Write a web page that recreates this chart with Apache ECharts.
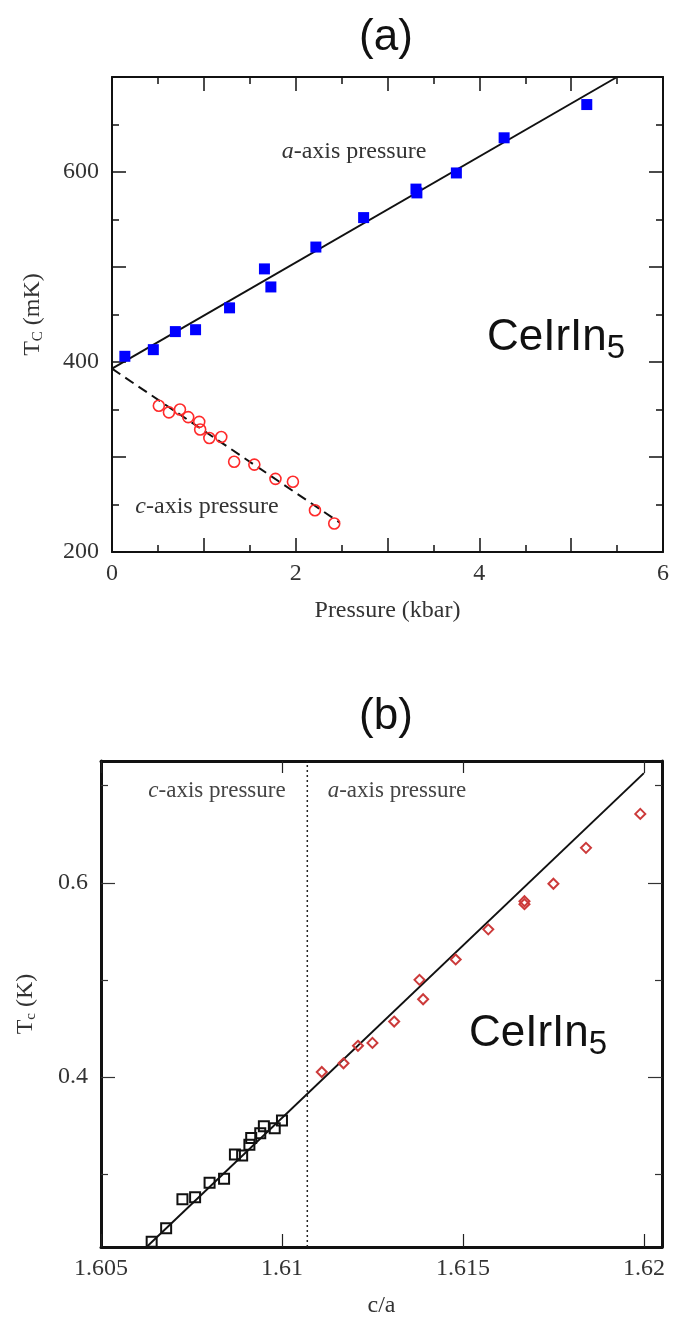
<!DOCTYPE html>
<html>
<head>
<meta charset="utf-8">
<script src="https://cdn.jsdelivr.net/npm/echarts@6/dist/echarts.min.js"></script>
<style>
html,body{margin:0;padding:0;background:#fff;}
#c{width:674px;height:1322px;}
</style>
</head>
<body>
<div id="c"></div>
<script>
// ---- Panel (a): Tc vs pressure ----
const aPressure = [0.14, 0.45, 0.69, 0.91, 1.28, 1.66, 1.73, 2.22, 2.74, 3.31, 3.32, 3.75, 4.27, 5.17];
const aTc       = [406, 413, 432, 434, 457, 498, 479, 521, 552, 582, 578, 599, 636, 671];
const cPressure = [0.51, 0.62, 0.74, 0.83, 0.95, 0.96, 1.06, 1.19, 1.33, 1.55, 1.78, 1.97, 2.21, 2.42];
const cTc       = [354, 347, 350, 342, 337, 329, 320, 321, 295, 292, 277, 274, 244, 230];
const aFitP = [0, 5.5];
const aFitT = [393, 700];
const cFitP = [0, 2.48];
const cFitT = [393, 231];
const pressureTicks = [0, 2, 4, 6];
const tcTicksA = [200, 400, 600];

// ---- Panel (b): Tc vs c/a ----
const caC  = [1.6064, 1.6068, 1.60725, 1.6076, 1.6080, 1.6084, 1.6087, 1.6089, 1.6091, 1.60915, 1.6094, 1.6095, 1.6098, 1.6100];
const tcC  = [0.230, 0.244, 0.274, 0.276, 0.291, 0.295, 0.320, 0.319, 0.330, 0.337, 0.342, 0.349, 0.347, 0.355];
const caA  = [1.6111, 1.6117, 1.6121, 1.6125, 1.6131, 1.6139, 1.6138, 1.6148, 1.6157, 1.6167, 1.6167, 1.6175, 1.6184, 1.6199];
const tcA  = [0.405, 0.414, 0.432, 0.435, 0.457, 0.480, 0.500, 0.521, 0.552, 0.581, 0.578, 0.599, 0.636, 0.671];
const fitCA = [1.606, 1.62];
const fitTc = [0.2155, 0.713];
const dividerCA = 1.6107;
const caTicks = [1.605, 1.61, 1.615, 1.62];
const tcTicksBMajor = [0.4, 0.6];
const tcTicksBMinor = [0.3, 0.5, 0.7];
const caMin = 1.605, caMax = 1.6205;
const tcBMin = 0.2247, tcBMax = 0.7255;

const zip = (xs, ys) => xs.map((x, i) => [x, ys[i]]);

const SERIF = '"Liberation Serif", "DejaVu Serif", serif';
const SANS = '"Liberation Sans", Arial, sans-serif';
const TXT = '#333';
const labelStyle = {fontFamily: SERIF, fontSize: 24, color: TXT};

function axisA(pos, showLabel, isX) {
  const o = {
    gridIndex: 0, type: 'value', position: pos,
    min: isX ? 0 : 200, max: isX ? 6 : 700, interval: isX ? 1 : 100,
    axisLine: {show: true, onZero: false, lineStyle: {color: '#111', width: 2}},
    axisTick: {show: true, inside: true, length: 14, lineStyle: {color: '#111', width: 1.5}},
    minorTick: {show: true, splitNumber: 2, length: 7, lineStyle: {color: '#111', width: 1.5}},
    splitLine: {show: false}, minorSplitLine: {show: false},
    axisLabel: {show: showLabel, ...labelStyle, margin: isX ? 10 : 13,
      formatter: v => (isX ? pressureTicks : tcTicksA).indexOf(v) >= 0 ? String(v) : ''}
  };
  return o;
}

const option = {
  animation: false,
  backgroundColor: '#fff',
  grid: [
    {left: 112, top: 77, width: 551, height: 475},
    {left: 101, top: 761, width: 561, height: 486}
  ],
  xAxis: [
    Object.assign(axisA('bottom', true, true), {
      name: 'Pressure (kbar)', nameLocation: 'middle', nameGap: 47,
      nameTextStyle: {fontFamily: SERIF, fontSize: 24, color: TXT}
    }),
    axisA('top', false, true),
    {
      gridIndex: 1, type: 'value', position: 'bottom', min: caMin, max: caMax,
      axisLine: {show: true, onZero: false, lineStyle: {color: '#111', width: 3}},
      axisTick: {show: true, inside: true, length: 13, customValues: caTicks, lineStyle: {color: '#222', width: 1.2}},
      axisLabel: {show: true, ...labelStyle, margin: 10, customValues: caTicks, formatter: v => String(+v.toFixed(3))},
      splitLine: {show: false},
      name: 'c/a', nameLocation: 'middle', nameGap: 47,
      nameTextStyle: {fontFamily: SERIF, fontSize: 24, color: TXT}
    },
    {
      gridIndex: 1, type: 'value', position: 'top', min: caMin, max: caMax,
      axisLine: {show: true, onZero: false, lineStyle: {color: '#111', width: 3}},
      axisTick: {show: true, inside: true, length: 12, customValues: caTicks, lineStyle: {color: '#222', width: 1.2}},
      axisLabel: {show: false},
      splitLine: {show: false}
    }
  ],
  yAxis: [
    Object.assign(axisA('left', true, false), {
      name: '{t|T}{s|C}{t| (mK)}', nameLocation: 'middle', nameGap: 66,
      nameTextStyle: {fontFamily: SERIF, fontSize: 24, color: TXT,
        rich: {t: {fontFamily: SERIF, fontSize: 24, color: TXT}, s: {fontFamily: SERIF, fontSize: 15, color: TXT, padding: [12, 0, 0, 0]}}}
    }),
    axisA('right', false, false),
    {
      gridIndex: 1, type: 'value', position: 'left', min: tcBMin, max: tcBMax,
      axisLine: {show: true, onZero: false, lineStyle: {color: '#111', width: 3}},
      axisTick: {show: true, inside: true, length: 14, customValues: tcTicksBMajor, lineStyle: {color: '#333', width: 1.2}},
      axisLabel: {show: true, ...labelStyle, margin: 13, customValues: tcTicksBMajor, formatter: v => String(+v.toFixed(1))},
      splitLine: {show: false},
      name: '{t|T}{s|c}{t| (K)}', nameLocation: 'middle', nameGap: 62,
      nameTextStyle: {fontFamily: SERIF, fontSize: 24, color: TXT,
        rich: {t: {fontFamily: SERIF, fontSize: 24, color: TXT}, s: {fontFamily: SERIF, fontSize: 15, color: TXT, padding: [12, 0, 0, 0]}}}
    },
    {
      gridIndex: 1, type: 'value', position: 'left', min: tcBMin, max: tcBMax,
      axisLine: {show: false},
      axisTick: {show: true, inside: true, length: 7, customValues: tcTicksBMinor, lineStyle: {color: '#333', width: 1.2}},
      axisLabel: {show: false}, splitLine: {show: false}
    },
    {
      gridIndex: 1, type: 'value', position: 'right', min: tcBMin, max: tcBMax,
      axisLine: {show: true, onZero: false, lineStyle: {color: '#111', width: 3}},
      axisTick: {show: true, inside: true, length: 14, customValues: tcTicksBMajor, lineStyle: {color: '#333', width: 1.2}},
      axisLabel: {show: false}, splitLine: {show: false}
    },
    {
      gridIndex: 1, type: 'value', position: 'right', min: tcBMin, max: tcBMax,
      axisLine: {show: false},
      axisTick: {show: true, inside: true, length: 7, customValues: tcTicksBMinor, lineStyle: {color: '#333', width: 1.2}},
      axisLabel: {show: false}, splitLine: {show: false}
    }
  ],
  series: [
    {type: 'line', xAxisIndex: 0, yAxisIndex: 0, data: zip(aFitP, aFitT), symbol: 'none', clip: true,
      lineStyle: {color: '#111', width: 2}, z: 2},
    {type: 'line', xAxisIndex: 0, yAxisIndex: 0, data: zip(cFitP, cFitT), symbol: 'none', clip: true,
      lineStyle: {color: '#111', width: 2, type: [10, 6]}, z: 2},
    {type: 'scatter', xAxisIndex: 0, yAxisIndex: 0, data: zip(aPressure, aTc), symbol: 'rect', symbolSize: 11,
      itemStyle: {color: '#0000ff', opacity: 1}, z: 3},
    {type: 'scatter', xAxisIndex: 0, yAxisIndex: 0, data: zip(cPressure, cTc), symbol: 'circle', symbolSize: 11,
      itemStyle: {color: 'rgba(255,255,255,0)', borderColor: '#ff2a2a', borderWidth: 1.6, opacity: 1}, z: 3},

    {type: 'line', xAxisIndex: 2, yAxisIndex: 2, data: zip(fitCA, fitTc), symbol: 'none', clip: true,
      lineStyle: {color: '#111', width: 2}, z: 2},
    {type: 'line', xAxisIndex: 2, yAxisIndex: 2, data: [[dividerCA, tcBMin], [dividerCA, tcBMax]], symbol: 'none', clip: true,
      lineStyle: {color: '#222', width: 1.5, type: [2, 3]}, z: 2},
    {type: 'scatter', xAxisIndex: 2, yAxisIndex: 2, data: zip(caC, tcC), symbol: 'rect', symbolSize: 10,
      itemStyle: {color: 'rgba(255,255,255,0)', borderColor: '#111', borderWidth: 2, opacity: 1}, z: 3},
    {type: 'scatter', xAxisIndex: 2, yAxisIndex: 2, data: zip(caA, tcA), symbol: 'diamond', symbolSize: 10,
      itemStyle: {color: 'rgba(255,255,255,0)', borderColor: '#cc3a3a', borderWidth: 2, opacity: 1}, z: 3}
  ],
  graphic: [
    {type: 'text', style: {text: '(a)', x: 386, y: 38, textAlign: 'center', textVerticalAlign: 'middle', font: '44px ' + SANS, fill: '#111'}},
    {type: 'text', style: {text: '(b)', x: 386, y: 717, textAlign: 'center', textVerticalAlign: 'middle', font: '44px ' + SANS, fill: '#111'}},
    {type: 'text', style: {text: '{i|a}{n|-axis pressure}', x: 354, y: 152, textAlign: 'center', textVerticalAlign: 'middle',
      rich: {i: {fontFamily: SERIF, fontSize: 24, fontStyle: 'italic', fill: TXT}, n: {fontFamily: SERIF, fontSize: 24, fill: TXT}}}},
    {type: 'text', style: {text: '{i|c}{n|-axis pressure}', x: 207, y: 507, textAlign: 'center', textVerticalAlign: 'middle',
      rich: {i: {fontFamily: SERIF, fontSize: 24, fontStyle: 'italic', fill: TXT}, n: {fontFamily: SERIF, fontSize: 24, fill: TXT}}}},
    {type: 'text', style: {text: '{a|CeIrIn}{b|5}', x: 487, y: 338, textAlign: 'left', textVerticalAlign: 'middle',
      rich: {a: {fontFamily: SANS, fontSize: 44, fill: '#111'}, b: {fontFamily: SANS, fontSize: 33, fill: '#111', padding: [22, 0, 0, 0]}}}},
    {type: 'text', style: {text: '{i|c}{n|-axis pressure}', x: 217, y: 791, textAlign: 'center', textVerticalAlign: 'middle',
      rich: {i: {fontFamily: SERIF, fontSize: 23, fontStyle: 'italic', fill: '#444'}, n: {fontFamily: SERIF, fontSize: 23, fill: '#444'}}}},
    {type: 'text', style: {text: '{i|a}{n|-axis pressure}', x: 397, y: 791, textAlign: 'center', textVerticalAlign: 'middle',
      rich: {i: {fontFamily: SERIF, fontSize: 23, fontStyle: 'italic', fill: '#444'}, n: {fontFamily: SERIF, fontSize: 23, fill: '#444'}}}},
    {type: 'text', style: {text: '{a|CeIrIn}{b|5}', x: 469, y: 1034, textAlign: 'left', textVerticalAlign: 'middle',
      rich: {a: {fontFamily: SANS, fontSize: 44, fill: '#111'}, b: {fontFamily: SANS, fontSize: 33, fill: '#111', padding: [22, 0, 0, 0]}}}}
  ]
};

const chart = echarts.init(document.getElementById('c'), null, {renderer: 'canvas'});
chart.setOption(option);
</script>
</body>
</html>
